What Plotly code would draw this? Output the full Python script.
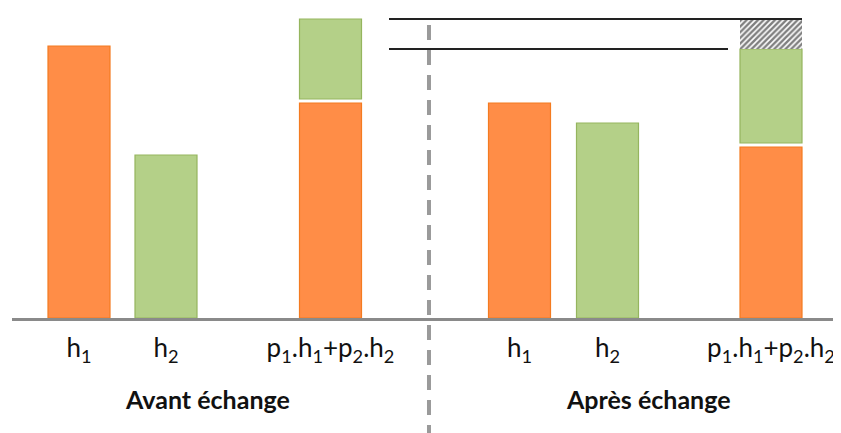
import plotly.graph_objects as go

# ---- data (arbitrary height units) ----
labels = ["h<sub>1</sub>", "h<sub>2</sub>", "p<sub>1</sub>.h<sub>1</sub>+p<sub>2</sub>.h<sub>2</sub>"]
groups = ["Avant échange", "Après échange"]
h1 = [272, 215]          # h1 before / after
h2 = [163, 195]          # h2 before / after
p1h1 = [215, 171]        # p1.h1 part of the stacked bar
p2h2 = [80, 94]          # p2.h2 part of the stacked bar

# ---- layout / style ----
GAP = 4                  # visual gap between stacked parts
BAR_W = 62
pos = [[67, 154, 318.5], [507.5, 595.5, 759]]   # x positions of the 3 bars per group
SEP_X = 0.503
ORANGE = "#FF8D47"
ORANGE_LINE = "#F47B20"
GREEN = "#B4D088"
GREEN_LINE = "#95B55E"
FONT = "Lato"

fig = go.Figure()

tot = [p1h1[g] + GAP + p2h2[g] for g in range(2)]

ox, oy = [], []
gx, gy, gb = [], [], []
for g in range(2):
    ox += [pos[g][0], pos[g][2]]
    oy += [h1[g], p1h1[g]]
    gx += [pos[g][1], pos[g][2]]
    gy += [h2[g], p2h2[g]]
    gb += [0, p1h1[g] + GAP]

fig.add_trace(go.Bar(x=ox, y=oy, width=BAR_W, marker=dict(color=ORANGE, line=dict(color=ORANGE_LINE, width=1.2)),
                     hoverinfo="skip"))
fig.add_trace(go.Bar(x=gx, y=gy, base=gb, width=BAR_W, marker=dict(color=GREEN, line=dict(color=GREEN_LINE, width=1.2)),
                     hoverinfo="skip"))
# hatched loss area on the after stacked bar
fig.add_trace(go.Bar(x=[pos[1][2]], y=[tot[0] - tot[1]], base=[tot[1]], width=BAR_W,
                     marker=dict(color="white", line=dict(width=0),
                                 pattern=dict(shape="/", fgcolor="#000", bgcolor="white", size=4, solidity=0.6)),
                     hoverinfo="skip"))

# reference lines at the stacked totals
line_x0 = 377
fig.add_shape(type="line", xref="x", yref="y", x0=line_x0, x1=pos[1][2] + BAR_W / 2, y0=tot[0], y1=tot[0],
              line=dict(color="#222", width=1.8))
fig.add_shape(type="line", xref="x", yref="y", x0=line_x0, x1=pos[1][2] - BAR_W / 2 - 12, y0=tot[1], y1=tot[1],
              line=dict(color="#222", width=1.8))

# dashed separator
fig.add_shape(type="line", xref="paper", yref="paper", x0=SEP_X, x1=SEP_X, y0=0.945, y1=-0.42,
              line=dict(color="#9a9a9a", width=4, dash="15px,10px"))

# group labels
for g in range(2):
    fig.add_annotation(x=(pos[g][0] + pos[g][2]) / 2 + 3, y=-0.262, xref="x", yref="paper",
                       text="<b>%s</b>" % groups[g],
                       showarrow=False, yanchor="middle", font=dict(family=FONT, size=25, color="#111"))

fig.update_layout(
    width=841, height=433, margin=dict(l=4, r=8, t=0, b=123),
    paper_bgcolor="white", plot_bgcolor="white", showlegend=False, barmode="overlay",
    xaxis=dict(range=[0, 829], showgrid=False, zeroline=False, showline=True, linecolor="#8a8a8a", linewidth=3,
               tickvals=pos[0] + pos[1], ticktext=labels + labels, ticks="",
               tickfont=dict(family=FONT, size=26, color="#111"), ticklabelstandoff=5),
    yaxis=dict(range=[0, 310], visible=False),
)

fig.write_html("out.html")
